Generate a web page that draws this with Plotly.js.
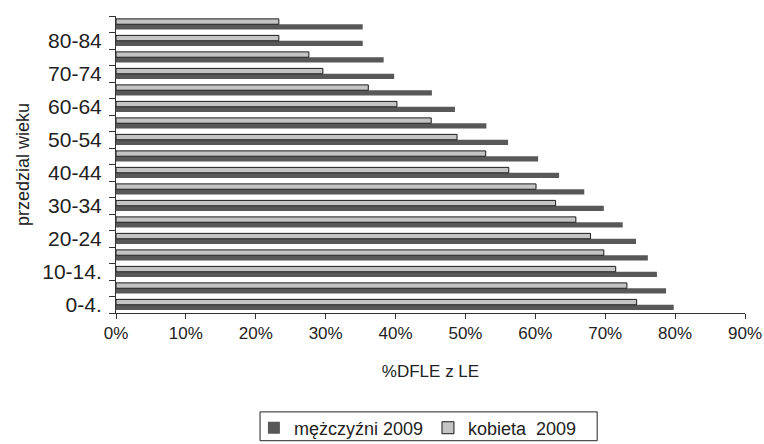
<!DOCTYPE html>
<html>
<head>
<meta charset="utf-8">
<script src="https://cdn.plot.ly/plotly-3.0.1.min.js"></script>
<style>html,body{margin:0;padding:0;background:#fff;}#chart{width:764px;height:444px;}</style>
</head>
<body>
<div id="chart"></div>
<script>
const categories = ["0-4.", "5-9.", "10-14.", "15-19", "20-24", "25-29", "30-34", "35-39", "40-44",
  "45-49", "50-54", "55-59", "60-64", "65-69", "70-74", "75-79", "80-84", "85+"];
const menValues = [79.8, 78.7, 77.4, 76.1, 74.4, 72.5, 69.8, 67.0, 63.4,
  60.4, 56.1, 53.0, 48.5, 45.2, 39.8, 38.3, 35.3, 35.3];
const womenValues = [74.5, 73.1, 71.5, 69.8, 67.9, 65.8, 62.9, 60.1, 56.2,
  52.9, 48.8, 45.1, 40.2, 36.1, 29.6, 27.6, 23.3, 23.3];
const seriesNames = ["mężczyźni 2009", "kobieta\u00a0 2009"];
const yTickText = categories.map((c, i) => (i % 2 === 0 ? c : ""));

const font = "Liberation Sans, Arial, sans-serif";

const traces = [
  {
    type: "bar", orientation: "h", name: seriesNames[0],
    x: menValues, y: categories,
    marker: { color: "#585858", line: { color: "#585858", width: 0 } },
    hoverinfo: "x+y"
  },
  {
    type: "bar", orientation: "h", name: seriesNames[1],
    x: womenValues, y: categories,
    marker: { color: "#c4c4c4", line: { color: "#1a1a1a", width: 1 } },
    hoverinfo: "x+y"
  }
];

const layout = {
  width: 764, height: 444,
  margin: { l: 116, r: 19, t: 16, b: 131, autoexpand: false },
  paper_bgcolor: "#ffffff", plot_bgcolor: "#ffffff",
  barmode: "group", bargap: 0.35, bargroupgap: 0,
  font: { family: font, color: "#222" },
  showlegend: true,
  legend: {
    orientation: "h", x: 0.48, xanchor: "center", y: -0.325, yanchor: "top",
    traceorder: "normal",
    bgcolor: "rgba(0,0,0,0)", borderwidth: 0,
    font: { family: font, size: 18, color: "#222" },
    itemwidth: 30
  },
  shapes: [
    {
      type: "rect", xref: "paper", yref: "paper",
      x0: 0.229, x1: 0.765, y0: -0.333, y1: -0.43,
      line: { color: "#222", width: 1 }, fillcolor: "rgba(0,0,0,0)", layer: "below"
    }
  ],
  xaxis: {
    range: [0, 90], dtick: 10, tick0: 0, ticksuffix: "%",
    showgrid: false, zeroline: false,
    showline: true, linecolor: "#333", linewidth: 1,
    ticks: "outside", ticklen: 5, tickcolor: "#333",
    tickfont: { family: font, size: 17, color: "#222" },
    title: { text: "%DFLE z LE", font: { family: font, size: 17, color: "#222" }, standoff: 22 }
  },
  yaxis: {
    type: "category",
    tickmode: "array", tickvals: categories, ticktext: yTickText,
    tickson: "boundaries",
    showgrid: false, zeroline: false,
    showline: true, linecolor: "#333", linewidth: 1,
    ticks: "outside", ticklen: 6, tickcolor: "#333",
    ticklabelstandoff: 9,
    tickfont: { family: font, size: 21, color: "#222" },
    title: { text: "przedzial wieku", font: { family: font, size: 18, color: "#222" }, standoff: 7 }
  }
};

Plotly.newPlot("chart", traces, layout, { displayModeBar: false, staticPlot: true });
</script>
</body>
</html>
